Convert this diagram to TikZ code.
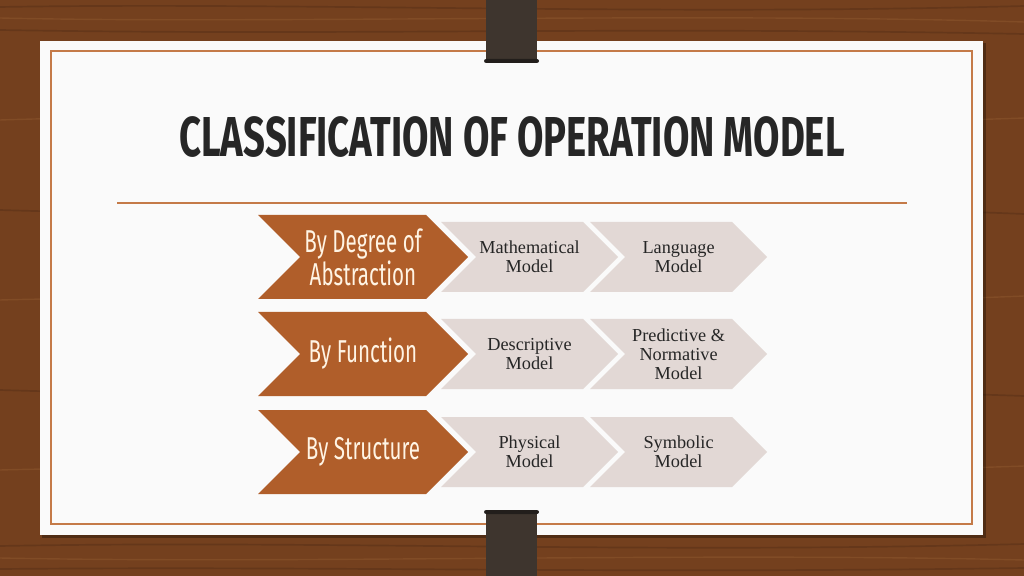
\documentclass[tikz,border=0pt]{standalone}
\usepackage{fontspec}
\setmainfont{Liberation Serif}
\newfontfamily\titlefont[FakeStretch=0.68]{Fira Sans}
\newfontfamily\chevfont[FakeStretch=0.65]{Fira Sans}
\usepackage{tikz}
\usetikzlibrary{%
  positioning
}
\usepackage{xcolor}

\definecolor{wood}{RGB}{116,64,30}
\definecolor{wooddark}{RGB}{80,43,20}
\definecolor{woodlight}{RGB}{150,94,50}
\definecolor{card}{RGB}{250,250,250}
\definecolor{trim}{RGB}{196,122,72}
\definecolor{clipbrown}{RGB}{62,53,46}
\definecolor{clipend}{RGB}{34,30,27}
\definecolor{rust}{RGB}{176,94,42}
\definecolor{blush}{RGB}{226,216,213}
\definecolor{ink}{RGB}{38,38,38}
\definecolor{cream}{RGB}{255,244,228}

% chevron: colour, left x, middle y, width, half height
\newcommand{\chevron}[5]{%
  \fill[#1] (#2,#3-#5) -- ++(#4-#5,0) -- ++(#5,#5) -- ++(-#5,#5)
    -- ++(-#4+#5,0) -- ++(#5,-#5) -- cycle;}

\begin{document}
\begin{tikzpicture}[%
    x=0.025cm, y=-0.025cm,
    every node/.style={%
      text centered,
      align=center
    },
    grain/.style={draw=wooddark, line width=1.2pt, opacity=0.4},
    shine/.style={draw=woodlight, line width=1pt, opacity=0.4},
    trim line/.style={draw=trim, line width=1.1pt},
    head/.style={%
      inner sep=0pt, text=cream,
      font=\chevfont\fontsize{22.5}{19.5}\selectfont
    },
    item/.style={%
      inner sep=0pt, text=ink,
      font=\fontsize{13}{13.5}\selectfont
    }
  ]

  \useasboundingbox (0,0) rectangle (1024,576);

  % Wood behind the card
  \fill[wood] (0,0) rectangle (1024,576);
  \draw[grain] (0,7) .. controls (300,2) and (650,16) .. (1024,6);
  \draw[shine] (0,18) .. controls (260,24) and (700,12) .. (1024,22);
  \draw[grain] (0,30) .. controls (350,36) and (620,26) .. (1024,34);
  \draw[shine] (0,120) .. controls (300,110) and (700,130) .. (1024,118);
  \draw[grain] (0,210) .. controls (300,220) and (700,200) .. (1024,214);
  \draw[shine] (0,300) .. controls (300,292) and (700,310) .. (1024,296);
  \draw[grain] (0,390) .. controls (300,400) and (700,384) .. (1024,396);
  \draw[shine] (0,470) .. controls (300,462) and (700,478) .. (1024,466);
  \draw[grain] (0,546) .. controls (320,540) and (640,554) .. (1024,544);
  \draw[shine] (0,558) .. controls (300,564) and (700,552) .. (1024,560);
  \draw[grain] (0,569) .. controls (350,566) and (600,574) .. (1024,568);

  % Card
  \fill[black, opacity=0.3] (42,43) rectangle (986,538);
  \fill[card] (40,41) rectangle (983,535);
  \draw[trim line] (51,51) rectangle (972,524);

  % Clips
  \fill[clipbrown] (486,0) rectangle (537,62);
  \fill[clipend, rounded corners=1.5] (484,59) rectangle (539,63);
  \fill[clipbrown] (486,512) rectangle (537,576);
  \fill[clipend, rounded corners=1.5] (484,510) rectangle (539,514);

  % Title
  \node[ink, font=\titlefont\bfseries\fontsize{40}{40}\selectfont]
    (title) at (512,137)
    {CLASSIFICATION OF OPERATION MODEL};
  \draw[trim line] (117,203) -- (907,203);

  % Chevrons
  \chevron{rust}{258}{257}{210}{42}
  \chevron{blush}{441}{257}{177}{35}
  \chevron{blush}{590}{257}{177}{35}
  \chevron{rust}{258}{354}{210}{42}
  \chevron{blush}{441}{354}{177}{35}
  \chevron{blush}{590}{354}{177}{35}
  \chevron{rust}{258}{452}{210}{42}
  \chevron{blush}{441}{452}{177}{35}
  \chevron{blush}{590}{452}{177}{35}

  % Row heads
  \node[head] (d1) at (363,257) {By Degree of\\Abstraction};
  \node[head, below=2.425cm of d1.center, anchor=center]
    (d2)
    {By Function};
  \node[head, below=2.45cm of d2.center, anchor=center]
    (d3)
    {By Structure};

  % Row items
  \node[item, right=4.1625cm of d1.center, anchor=center]
    (m1)
    {Mathematical\\Model};
  \node[item, right=3.725cm of m1.center, anchor=center]
    (m2)
    {Language\\Model};
  \node[item, right=4.1625cm of d2.center, anchor=center]
    (f1)
    {Descriptive\\Model};
  \node[item, right=3.725cm of f1.center, anchor=center]
    (f2)
    {Predictive \&\\Normative\\Model};
  \node[item, right=4.1625cm of d3.center, anchor=center]
    (s1)
    {Physical\\Model};
  \node[item, right=3.725cm of s1.center, anchor=center]
    (s2)
    {Symbolic\\Model};

\end{tikzpicture}
\end{document}
